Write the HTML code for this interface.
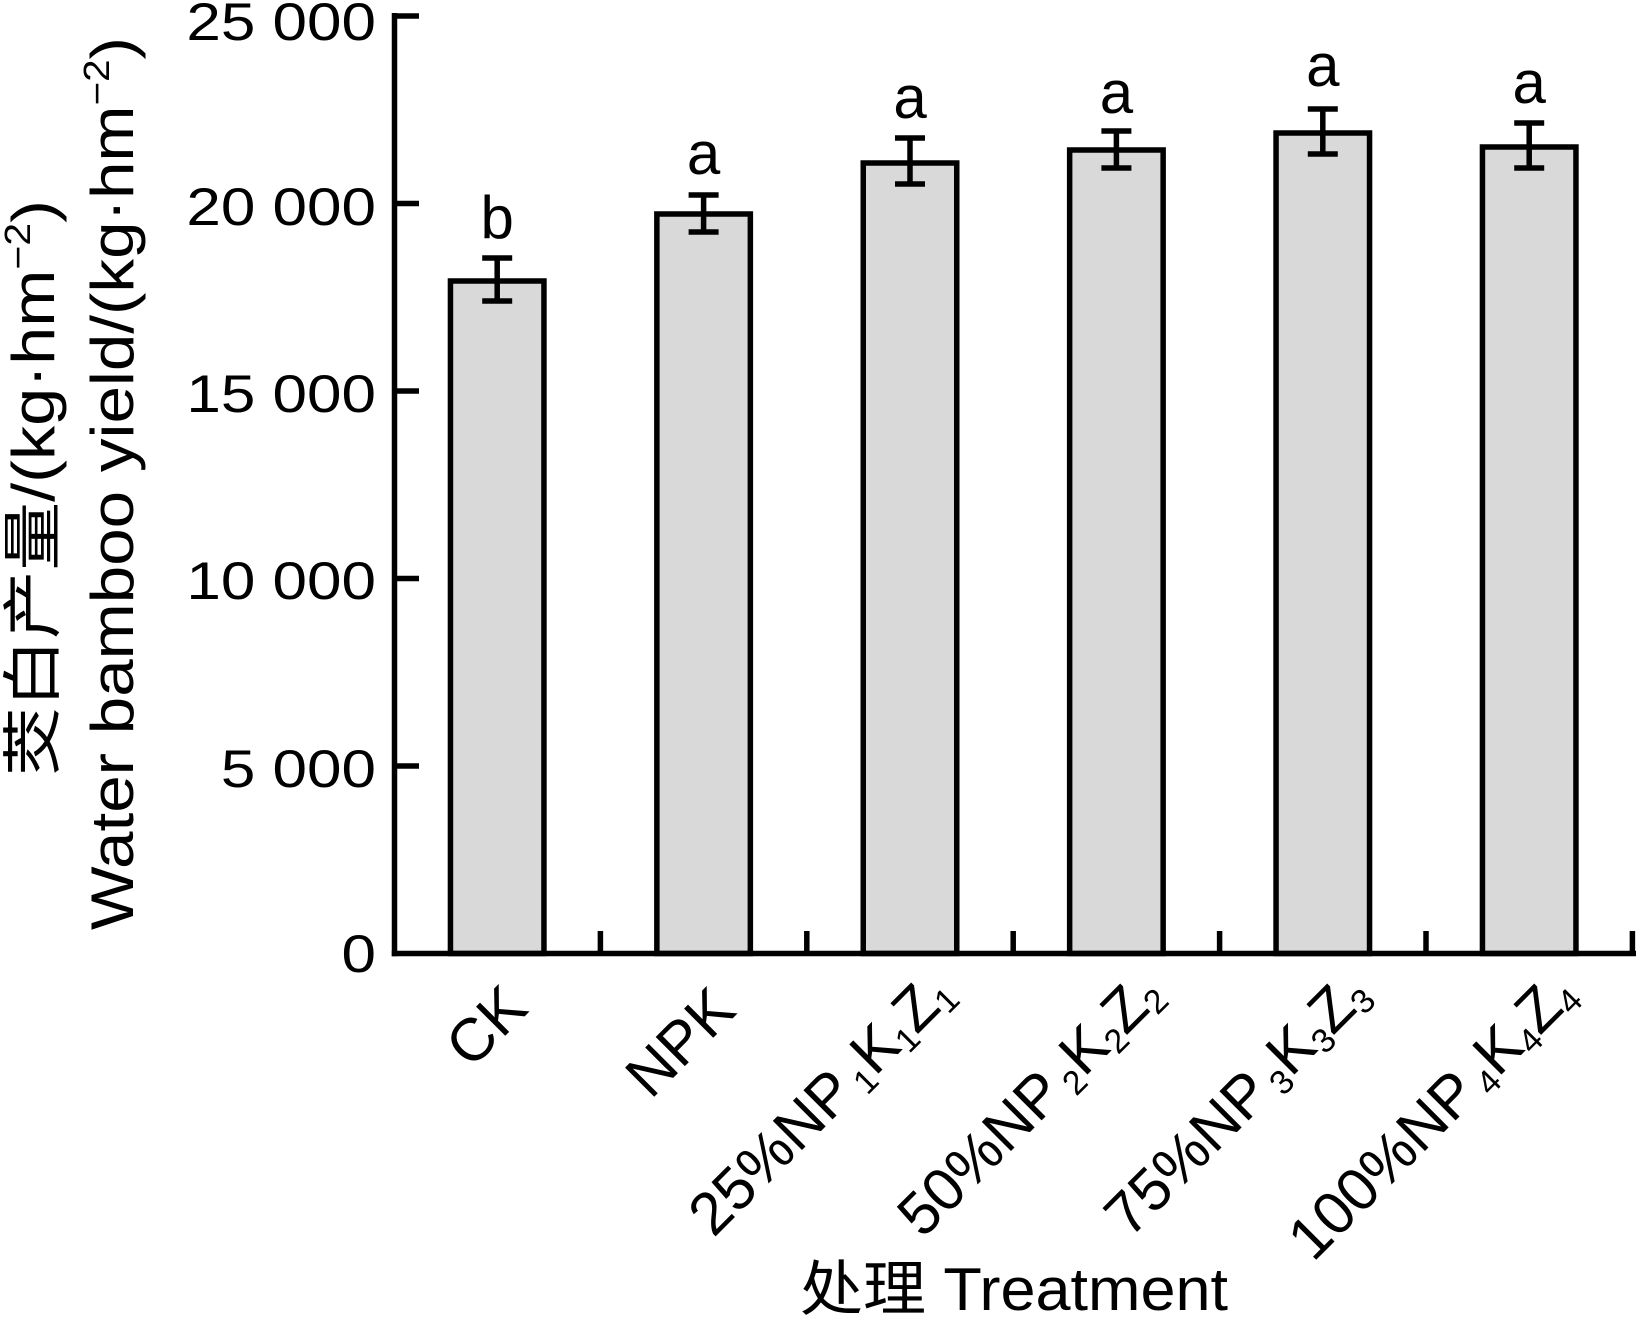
<!DOCTYPE html>
<html>
<head>
<meta charset="utf-8">
<style>
  html, body { margin: 0; padding: 0; background: #ffffff; }
  svg { display: block; }
  text { font-family: "Liberation Sans", "Noto Sans CJK SC", sans-serif; fill: #000; }
</style>
</head>
<body>
<svg width="1638" height="1317" viewBox="0 0 1638 1317" xmlns="http://www.w3.org/2000/svg">
  <rect x="0" y="0" width="1638" height="1317" fill="#ffffff"/>

  <!-- Bars -->
  <g fill="#d9d9d9" stroke="#000" stroke-width="5.5" stroke-linejoin="miter">
    <rect x="450.45" y="281" width="93.5" height="672.5"/>
    <rect x="656.85" y="214" width="93.5" height="739.5"/>
    <rect x="863.25" y="163" width="93.5" height="790.5"/>
    <rect x="1069.65" y="150" width="93.5" height="803.5"/>
    <rect x="1276.05" y="133" width="93.5" height="820.5"/>
    <rect x="1482.45" y="147" width="93.5" height="806.5"/>
  </g>

  <!-- Error bars -->
  <g stroke="#000" stroke-width="5.5" fill="none">
    <line x1="497.2" y1="258" x2="497.2" y2="301"/>
    <line x1="482.2" y1="258" x2="512.2" y2="258"/>
    <line x1="482.2" y1="301" x2="512.2" y2="301"/>

    <line x1="703.6" y1="195" x2="703.6" y2="232"/>
    <line x1="688.6" y1="195" x2="718.6" y2="195"/>
    <line x1="688.6" y1="232" x2="718.6" y2="232"/>

    <line x1="910" y1="138" x2="910" y2="184"/>
    <line x1="895" y1="138" x2="925" y2="138"/>
    <line x1="895" y1="184" x2="925" y2="184"/>

    <line x1="1116.4" y1="131" x2="1116.4" y2="168"/>
    <line x1="1101.4" y1="131" x2="1131.4" y2="131"/>
    <line x1="1101.4" y1="168" x2="1131.4" y2="168"/>

    <line x1="1322.8" y1="109" x2="1322.8" y2="154"/>
    <line x1="1307.8" y1="109" x2="1337.8" y2="109"/>
    <line x1="1307.8" y1="154" x2="1337.8" y2="154"/>

    <line x1="1529.2" y1="123" x2="1529.2" y2="168"/>
    <line x1="1514.2" y1="123" x2="1544.2" y2="123"/>
    <line x1="1514.2" y1="168" x2="1544.2" y2="168"/>
  </g>

  <!-- Significance letters -->
  <g font-size="60" text-anchor="middle">
    <text x="497.2" y="238">b</text>
    <text x="703.6" y="174">a</text>
    <text x="910" y="118">a</text>
    <text x="1116.4" y="113">a</text>
    <text x="1322.8" y="86">a</text>
    <text x="1529.2" y="103">a</text>
  </g>

  <!-- Axes -->
  <g stroke="#000" stroke-width="5.5" fill="none" stroke-linecap="butt">
    <line x1="394.5" y1="13" x2="394.5" y2="956.25"/>
    <line x1="391.75" y1="953.5" x2="1636" y2="953.5"/>
    <!-- y ticks -->
    <line x1="394.5" y1="16" x2="419" y2="16"/>
    <line x1="394.5" y1="203.5" x2="419" y2="203.5"/>
    <line x1="394.5" y1="391" x2="419" y2="391"/>
    <line x1="394.5" y1="578.5" x2="419" y2="578.5"/>
    <line x1="394.5" y1="766" x2="419" y2="766"/>
    <!-- x ticks -->
    <line x1="600.4" y1="931" x2="600.4" y2="953.5"/>
    <line x1="806.8" y1="931" x2="806.8" y2="953.5"/>
    <line x1="1013.2" y1="931" x2="1013.2" y2="953.5"/>
    <line x1="1219.6" y1="931" x2="1219.6" y2="953.5"/>
    <line x1="1426" y1="931" x2="1426" y2="953.5"/>
    <line x1="1632.4" y1="931" x2="1632.4" y2="953.5"/>
  </g>

  <!-- Y tick labels -->
  <g font-size="53" text-anchor="end">
    <text transform="translate(376,40) scale(1.17,1)">25 000</text>
    <text transform="translate(376,225) scale(1.17,1)">20 000</text>
    <text transform="translate(376,412) scale(1.17,1)">15 000</text>
    <text transform="translate(376,599) scale(1.17,1)">10 000</text>
    <text transform="translate(376,787) scale(1.17,1)">5 000</text>
    <text transform="translate(376,972) scale(1.17,1)">0</text>
  </g>

  <!-- Y axis title -->
  <text transform="translate(54,776) rotate(-90)" font-size="60" textLength="576" lengthAdjust="spacingAndGlyphs">茭白产量/(kg·hm<tspan font-size="36" dy="-24">−2</tspan><tspan dy="24">)</tspan></text>
  <text transform="translate(133,930) rotate(-90)" font-size="60" textLength="893" lengthAdjust="spacingAndGlyphs">Water bamboo yield/(kg·hm<tspan font-size="36" dy="-24">−2</tspan><tspan dy="24">)</tspan></text>

  <!-- X tick labels (rotated) -->
  <g font-size="60" text-anchor="end">
    <text transform="translate(530,1011) rotate(-45)">CK</text>
    <text transform="translate(738,1013) rotate(-45)">NPK</text>
    <text transform="translate(956,996) rotate(-45)">25%NP<tspan dx="6" dy="8" font-size="34">1</tspan><tspan dy="-8">K</tspan><tspan dy="8" font-size="34">1</tspan><tspan dy="-8">Z</tspan><tspan dy="8" font-size="34">1</tspan></text>
    <text transform="translate(1165,997) rotate(-45)">50%NP<tspan dx="6" dy="8" font-size="34">2</tspan><tspan dy="-8">K</tspan><tspan dy="8" font-size="34">2</tspan><tspan dy="-8">Z</tspan><tspan dy="8" font-size="34">2</tspan></text>
    <text transform="translate(1372,997) rotate(-45)">75%NP<tspan dx="6" dy="8" font-size="34">3</tspan><tspan dy="-8">K</tspan><tspan dy="8" font-size="34">3</tspan><tspan dy="-8">Z</tspan><tspan dy="8" font-size="34">3</tspan></text>
    <text transform="translate(1579,997) rotate(-45)">100%NP<tspan dx="6" dy="8" font-size="34">4</tspan><tspan dy="-8">K</tspan><tspan dy="8" font-size="34">4</tspan><tspan dy="-8">Z</tspan><tspan dy="8" font-size="34">4</tspan></text>
  </g>

  <!-- X axis title -->
  <text x="800" y="1310" font-size="60" textLength="428" lengthAdjust="spacingAndGlyphs">处理 Treatment</text>
</svg>
</body>
</html>
